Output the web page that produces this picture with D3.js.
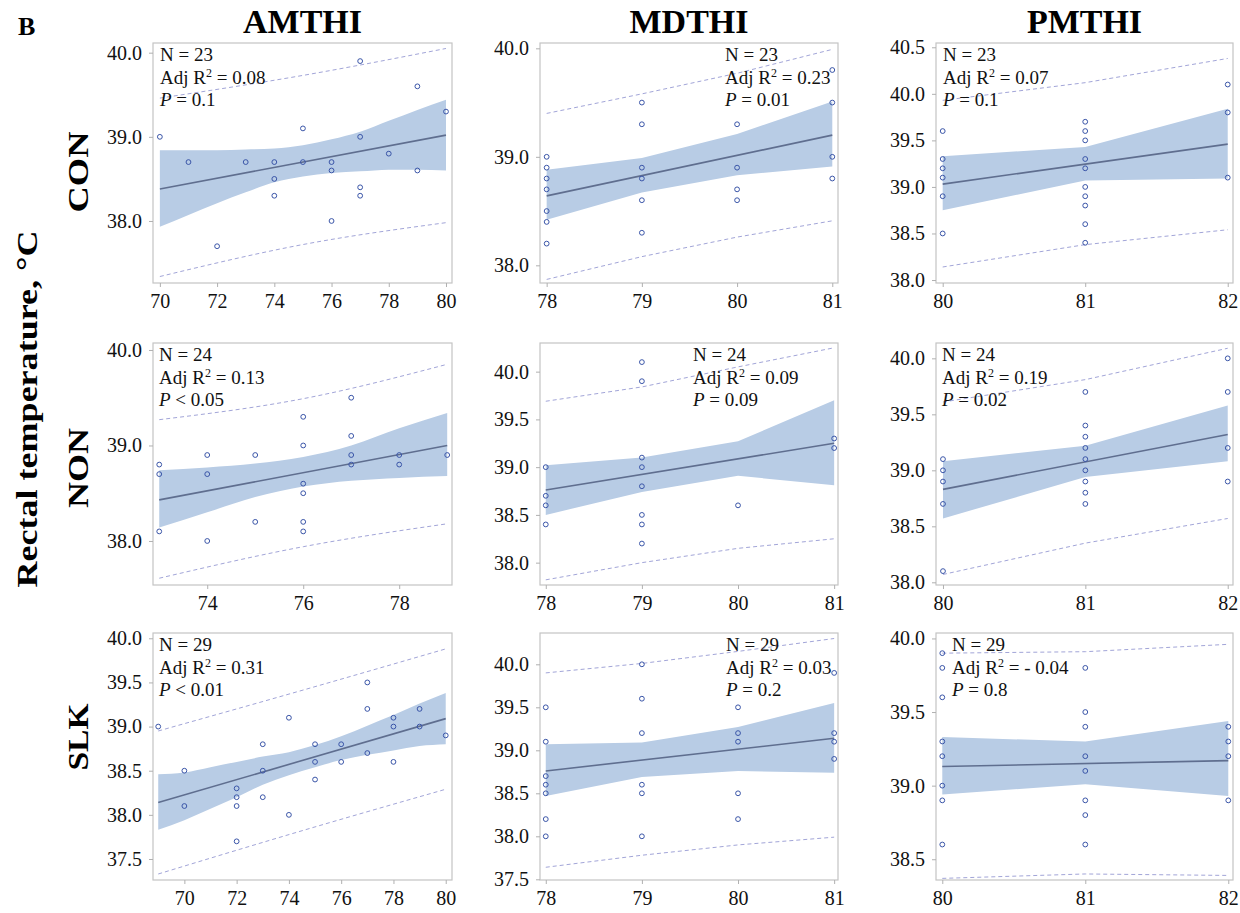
<!DOCTYPE html>
<html lang="en">
<head>
<meta charset="UTF-8">
<script src="https://cdn.jsdelivr.net/npm/d3@7"></script>
<title>Rectal temperature vs THI</title>
<style>
  body { margin: 0; background: #fff; }
  text { font-family: "Liberation Serif", "Times New Roman", serif; }
</style>
</head>
<body>
<div id="chart"></div>
<script>
// ---- data ----
var groups = ["CON", "NON", "SLK"];
var indices = ["AMTHI", "MDTHI", "PMTHI"];
var nObs = [[23, 23, 23], [24, 24, 24], [29, 29, 29]];
var adjR2 = [["0.08", "0.23", "0.07"], ["0.13", "0.09", "0.19"], ["0.31", "0.03", "- 0.04"]];
var pText = [["= 0.1", "= 0.01", "= 0.1"], ["< 0.05", "= 0.09", "= 0.02"], ["< 0.01", "= 0.2", "= 0.8"]];

// observations [THI, rectal temp]
var conAm = [[70,39.0],[71,38.7],[72,37.7],[73,38.7],[74,38.7],[74,38.5],[74,38.3],[75,39.1],[75,38.7],[76,38.7],[76,38.6],[76,38.0],[77,39.9],[77,39.0],[77,38.4],[77,38.3],[78,38.8],[79,39.6],[79,38.6],[80,39.3]];
var conMd = [[78,39.0],[78,38.9],[78,38.8],[78,38.7],[78,38.5],[78,38.4],[78,38.2],[79,39.5],[79,39.3],[79,38.9],[79,38.8],[79,38.6],[79,38.3],[80,39.3],[80,38.9],[80,38.7],[80,38.6],[81,39.8],[81,39.5],[81,39.0],[81,38.8]];
var conPm = [[80,39.6],[80,39.3],[80,39.2],[80,39.1],[80,38.9],[80,38.5],[81,39.7],[81,39.6],[81,39.5],[81,39.3],[81,39.2],[81,39.0],[81,38.9],[81,38.8],[81,38.6],[81,38.4],[82,40.1],[82,39.8],[82,39.1]];
var nonAm = [[73,38.8],[73,38.7],[73,38.1],[74,38.9],[74,38.7],[74,38.0],[75,38.9],[75,38.2],[76,39.3],[76,39.0],[76,38.6],[76,38.5],[76,38.2],[76,38.1],[77,39.5],[77,39.1],[77,38.9],[77,38.8],[78,38.9],[78,38.8],[79,38.9]];
var nonMd = [[78,39.0],[78,38.7],[78,38.6],[78,38.4],[79,40.1],[79,39.9],[79,39.1],[79,39.0],[79,38.8],[79,38.5],[79,38.4],[79,38.2],[80,38.6],[81,39.3],[81,39.2]];
var nonPm = [[80,39.1],[80,39.0],[80,38.9],[80,38.7],[80,38.1],[81,39.7],[81,39.4],[81,39.3],[81,39.2],[81,39.1],[81,39.0],[81,38.9],[81,38.8],[81,38.7],[82,40.0],[82,39.7],[82,39.2],[82,38.9]];
var slkAm = [[69,39.0],[70,38.5],[70,38.1],[72,38.3],[72,38.2],[72,38.1],[72,37.7],[73,38.8],[73,38.5],[73,38.2],[74,39.1],[74,38.0],[75,38.8],[75,38.6],[75,38.4],[76,38.8],[76,38.6],[77,39.5],[77,39.2],[77,38.7],[78,39.1],[78,39.0],[78,38.6],[79,39.2],[79,39.0],[80,38.9]];
var slkMd = [[78,39.5],[78,39.1],[78,38.7],[78,38.6],[78,38.5],[78,38.2],[78,38.0],[79,40.0],[79,39.6],[79,39.2],[79,38.6],[79,38.5],[79,38.0],[80,39.5],[80,39.2],[80,39.1],[80,38.5],[80,38.2],[81,39.9],[81,39.2],[81,39.1],[81,38.9]];
var slkPm = [[80,39.9],[80,39.8],[80,39.6],[80,39.3],[80,39.2],[80,39.0],[80,38.9],[80,38.6],[81,39.8],[81,39.5],[81,39.4],[81,39.2],[81,39.1],[81,38.9],[81,38.8],[81,38.6],[82,39.4],[82,39.3],[82,39.2],[82,38.9]];

// fitted line end points [x, y]
var conAmFit = [[70,38.38],[80,39.02]];
var conMdFit = [[78,38.64],[81,39.20]];
var conPmFit = [[80,39.03],[82,39.46]];
var nonAmFit = [[73,38.43],[79,39.00]];
var nonMdFit = [[78,38.76],[81,39.25]];
var nonPmFit = [[80,38.83],[82,39.32]];
var slkAmFit = [[69,38.14],[80,39.09]];
var slkMdFit = [[78,38.76],[81,39.14]];
var slkPmFit = [[80,39.13],[82,39.17]];

// 95% confidence band [x, lower, upper]
var conAmCi = [[70,37.93,38.84],[71,38.07,38.84],[72,38.21,38.84],[73,38.34,38.85],[74,38.46,38.86],[75,38.53,38.90],[76,38.57,38.97],[77,38.59,39.06],[78,38.61,39.19],[79,38.61,39.32],[80,38.60,39.44]];
var conMdCi = [[78,38.42,38.88],[79,38.67,38.99],[80,38.83,39.21],[81,38.91,39.51]];
var conPmCi = [[80,38.75,39.33],[81,39.07,39.43],[82,39.09,39.84]];
var nonAmCi = [[73,38.14,38.74],[74,38.30,38.77],[75,38.46,38.81],[76,38.57,38.88],[77,38.63,39.00],[78,38.66,39.18],[79,38.68,39.34]];
var nonMdCi = [[78,38.50,39.02],[79,38.74,39.10],[80,38.91,39.27],[81,38.81,39.70]];
var nonPmCi = [[80,38.57,39.08],[81,38.94,39.22],[82,39.08,39.58]];
var slkAmCi = [[69,37.83,38.46],[70,37.94,38.48],[71,38.07,38.54],[72,38.20,38.60],[73,38.34,38.66],[74,38.45,38.71],[75,38.54,38.79],[76,38.62,38.89],[77,38.68,39.01],[78,38.73,39.13],[79,38.78,39.26],[80,38.80,39.38]];
var slkMdCi = [[78,38.47,39.07],[79,38.69,39.09],[80,38.76,39.27],[81,38.74,39.55]];
var slkPmCi = [[80,38.94,39.33],[81,39.01,39.30],[82,38.93,39.44]];

// 95% prediction limits [x, lower, upper]
var conAmPi = [[70,37.34,39.46],[75,37.72,39.73],[80,37.98,40.05]];
var conMdPi = [[78,37.87,39.40],[79,38.08,39.58],[80,38.26,39.77],[81,38.41,39.99]];
var conPmPi = [[80,38.14,39.93],[81,38.38,40.12],[82,38.54,40.38]];
var nonAmPi = [[73,37.61,39.27],[76,37.94,39.49],[79,38.18,39.85]];
var nonMdPi = [[78,37.82,39.69],[79,38.00,39.84],[80,38.15,40.05],[81,38.25,40.25]];
var nonPmPi = [[80,38.07,39.61],[81,38.35,39.81],[82,38.57,40.09]];
var slkAmPi = [[69,37.33,38.95],[74.5,37.82,39.41],[80,38.29,39.88]];
var slkMdPi = [[78,37.64,39.90],[79,37.78,40.01],[80,37.90,40.15],[81,37.99,40.30]];
var slkPmPi = [[80,38.37,39.90],[81,38.40,39.91],[82,38.39,39.96]];

// axis ranges and tick labels per panel
var xDomains = [
  [[69.76, 80.21], [77.93, 81.06], [79.953, 82.037]],
  [[72.87, 79.10], [77.94, 81.04], [79.951, 82.037]],
  [[68.80, 80.24], [77.94, 81.04], [79.956, 82.033]]];
var yDomains = [
  [[37.263, 40.115], [37.837, 40.049], [37.968, 40.546]],
  [[37.539, 40.073], [37.766, 40.30], [37.976, 40.137]],
  [[37.262, 40.06], [37.492, 40.364], [38.359, 40.037]]];
var xTicks = [
  [[70, 72, 74, 76, 78, 80], [78, 79, 80, 81], [80, 81, 82]],
  [[74, 76, 78], [78, 79, 80, 81], [80, 81, 82]],
  [[70, 72, 74, 76, 78, 80], [78, 79, 80, 81], [80, 81, 82]]];
var yTicks = [
  [[38, 39, 40], [38, 39, 40], [38, 38.5, 39, 39.5, 40, 40.5]],
  [[38, 39, 40], [38, 38.5, 39, 39.5, 40], [38, 38.5, 39, 39.5, 40]],
  [[37.5, 38, 38.5, 39, 39.5, 40], [37.5, 38, 38.5, 39, 39.5, 40], [38.5, 39, 39.5, 40]]];

var points = [[conAm, conMd, conPm], [nonAm, nonMd, nonPm], [slkAm, slkMd, slkPm]];
var fits = [[conAmFit, conMdFit, conPmFit], [nonAmFit, nonMdFit, nonPmFit], [slkAmFit, slkMdFit, slkPmFit]];
var cis = [[conAmCi, conMdCi, conPmCi], [nonAmCi, nonMdCi, nonPmCi], [slkAmCi, slkMdCi, slkPmCi]];
var pis = [[conAmPi, conMdPi, conPmPi], [nonAmPi, nonMdPi, nonPmPi], [slkAmPi, slkMdPi, slkPmPi]];

// ---- layout ----
var W = 1240, H = 913;
var colX = [[153, 452], [540, 838], [936, 1233]];
var rowY = [[43, 283], [343, 585], [633, 880]];
var noteX = [[160, 725, 943], [159, 693, 942], [159, 726, 952]];
var rowLabelY = [172, 468, 737];
var rowLabelLen = [81, 80, 67];

var svg = d3.select("#chart").append("svg")
    .attr("width", W)
    .attr("height", H);

svg.append("text")
    .attr("x", 18).attr("y", 35)
    .attr("font-size", 26).attr("font-weight", "bold")
    .text("B");

svg.append("text")
    .attr("transform", "translate(37,409) rotate(-90)")
    .attr("text-anchor", "middle")
    .attr("font-size", 30).attr("font-weight", "bold")
    .attr("textLength", 357).attr("lengthAdjust", "spacingAndGlyphs")
    .text("Rectal temperature, °C");

indices.forEach(function (name, c) {
  svg.append("text")
      .attr("x", (colX[c][0] + colX[c][1]) / 2).attr("y", 33)
      .attr("text-anchor", "middle")
      .attr("font-size", 34).attr("font-weight", "bold")
      .text(name);
});

groups.forEach(function (name, r) {
  svg.append("text")
      .attr("transform", "translate(88," + rowLabelY[r] + ") rotate(-90)")
      .attr("text-anchor", "middle")
      .attr("font-size", 30).attr("font-weight", "bold")
      .attr("textLength", rowLabelLen[r]).attr("lengthAdjust", "spacingAndGlyphs")
      .text(name);
});

groups.forEach(function (g, r) {
  indices.forEach(function (idx, c) {
    var x0 = colX[c][0], x1 = colX[c][1], y0 = rowY[r][0], y1 = rowY[r][1];
    var x = d3.scaleLinear().domain(xDomains[r][c]).range([x0, x1]);
    var y = d3.scaleLinear().domain(yDomains[r][c]).range([y1, y0]);
    var curve = c === 0 ? d3.curveMonotoneX : d3.curveLinear;
    var p = svg.append("g");

    // confidence band
    p.append("path")
        .datum(cis[r][c])
        .attr("fill", "#b8cce5")
        .attr("d", d3.area().curve(curve)
            .x(function (d) { return x(d[0]); })
            .y0(function (d) { return y(d[1]); })
            .y1(function (d) { return y(d[2]); }));

    // prediction limits
    [1, 2].forEach(function (k) {
      p.append("path")
          .datum(pis[r][c])
          .attr("fill", "none")
          .attr("stroke", "#a2a5d8")
          .attr("stroke-width", 1)
          .attr("stroke-dasharray", "4,3")
          .attr("d", d3.line().curve(c === 0 ? d3.curveMonotoneX : d3.curveLinear)
              .x(function (d) { return x(d[0]); })
              .y(function (d) { return y(d[k]); }));
    });

    // fitted line
    p.append("path")
        .datum(fits[r][c])
        .attr("fill", "none")
        .attr("stroke", "#5f6e8f")
        .attr("stroke-width", 1.6)
        .attr("d", d3.line()
            .x(function (d) { return x(d[0]); })
            .y(function (d) { return y(d[1]); }));

    // observations
    p.selectAll("circle")
        .data(points[r][c])
        .enter().append("circle")
        .attr("cx", function (d) { return x(d[0]); })
        .attr("cy", function (d) { return y(d[1]); })
        .attr("r", 2.4)
        .attr("fill", "none")
        .attr("stroke", "#3a55a8")
        .attr("stroke-width", 1);

    // frame
    p.append("rect")
        .attr("x", x0).attr("y", y0)
        .attr("width", x1 - x0).attr("height", y1 - y0)
        .attr("fill", "none")
        .attr("stroke", "#c4c4c4")
        .attr("stroke-width", 1.2);

    // axes
    var yAxis = p.append("g")
        .attr("transform", "translate(" + x0 + ",0)")
        .call(d3.axisLeft(y).tickValues(yTicks[r][c]).tickFormat(d3.format(".1f"))
            .tickSize(4).tickPadding(7));
    var xAxis = p.append("g")
        .attr("transform", "translate(0," + y1 + ")")
        .call(d3.axisBottom(x).tickValues(xTicks[r][c]).tickFormat(d3.format("d"))
            .tickSize(4).tickPadding(7));
    [yAxis, xAxis].forEach(function (a) {
      a.select(".domain").remove();
      a.selectAll("line").attr("stroke", "#b0b0b0");
      a.selectAll("text")
          .attr("font-family", "'Liberation Serif', 'Times New Roman', serif")
          .attr("font-size", 20)
          .attr("fill", "#111");
    });

    // statistics note
    var nx = noteX[r][c], ny = y0 + 18;
    var note = p.append("g").attr("font-size", 19).attr("fill", "#111");
    note.append("text").attr("x", nx).attr("y", ny).text("N = " + nObs[r][c]);
    var t2 = note.append("text").attr("x", nx).attr("y", ny + 22.5);
    t2.append("tspan").text("Adj R");
    t2.append("tspan").attr("font-size", 12).attr("dy", -7).text("2");
    t2.append("tspan").attr("dy", 7).text(" = " + adjR2[r][c]);
    var t3 = note.append("text").attr("x", nx).attr("y", ny + 45);
    t3.append("tspan").attr("font-style", "italic").text("P");
    t3.append("tspan").text(" " + pText[r][c]);
  });
});
</script>
</body>
</html>
